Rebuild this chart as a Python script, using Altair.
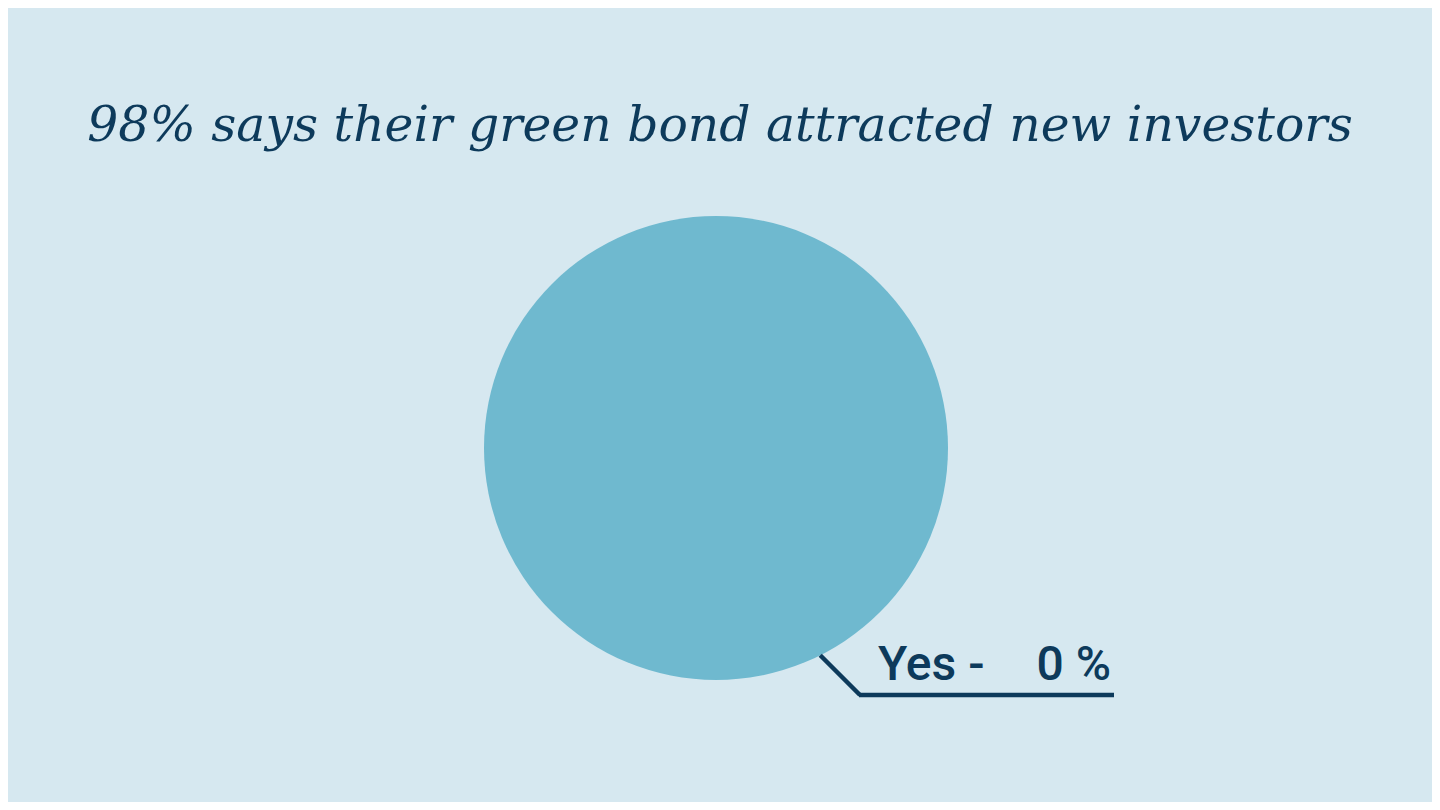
import altair as alt
import pandas as pd
import math

# ---- data ----
title_text = ["98% says their green bond attracted new investors"]
categories = ["Yes"]
shares = [100]          # the single slice fills the whole pie in this frame
label_values = [0]      # value shown in the callout label

BG = "#d6e8f0"
PIE = "#6fb9cf"
INK = "#0d3a5b"

W, H = 1424, 794
CX, CY, R = 708, 440, 232

pie_df = pd.DataFrame({"category": categories, "share": shares})
lab_df = pd.DataFrame({
    "cat_label": [c + " -" for c in categories],
    "val_label": [f"{v} %" for v in label_values],
})
title_df = pd.DataFrame({"t": title_text})

pie = alt.Chart(pie_df).mark_arc(outerRadius=R, color=PIE, stroke=None).encode(
    theta=alt.Theta("share:Q", stack=True),
    x=alt.value(CX), y=alt.value(CY),
)

title = alt.Chart(title_df).mark_text(
    font="DejaVu Serif", fontStyle="italic", fontSize=48.8, color=INK,
    align="center", baseline="alphabetic",
).encode(text="t:N", x=alt.value(W / 2), y=alt.value(133))

# leader line: starts on the pie edge at ~153 degrees
ang = math.radians(153.3)
sx = CX + R * math.sin(ang)
sy = CY - R * math.cos(ang)
ex, ey = 852, 687
leader1 = alt.Chart(lab_df).mark_rule(color=INK, strokeWidth=4.5).encode(
    x=alt.value(sx), y=alt.value(sy), x2=alt.value(ex), y2=alt.value(ey))
leader2 = alt.Chart(lab_df).mark_rule(color=INK, strokeWidth=4.5).encode(
    x=alt.value(ex - 1), y=alt.value(ey), x2=alt.value(1106), y2=alt.value(ey))

cat_text = alt.Chart(lab_df).mark_text(
    font="Roboto", fontSize=48, fontWeight=500, color=INK,
    align="left", baseline="alphabetic",
).encode(text="cat_label:N", x=alt.value(870), y=alt.value(672))

val_text = alt.Chart(lab_df).mark_text(
    font="Roboto", fontSize=48, fontWeight=500, color=INK,
    align="right", baseline="alphabetic",
).encode(text="val_label:N", x=alt.value(1103), y=alt.value(672))

chart = alt.layer(pie, title, leader1, leader2, cat_text, val_text).properties(
    width=W, height=H,
    autosize=alt.AutoSizeParams(type="none"),
    padding=0,
    background=BG,
).configure_view(stroke=None)

chart.save("out.html", embed_options={"renderer": "svg", "actions": False})
